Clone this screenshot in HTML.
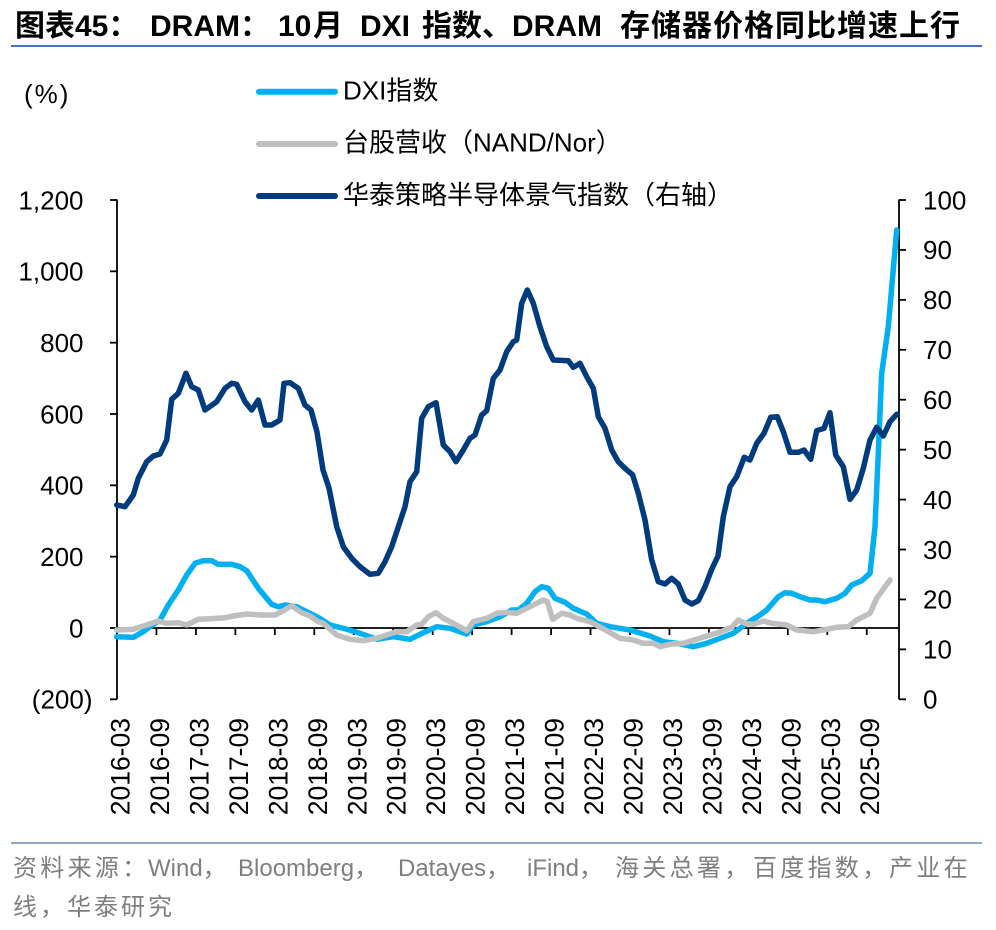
<!DOCTYPE html>
<html>
<head>
<meta charset="utf-8">
<style>
  html,body{margin:0;padding:0;background:#fff;}
  svg{display:block;}
  text{font-family:"Liberation Sans","Noto Sans CJK SC",sans-serif;}
</style>
</head>
<body>
<svg width="996" height="930" viewBox="0 0 996 930" xmlns="http://www.w3.org/2000/svg">
  <rect width="996" height="930" fill="#fff"/>

  <!-- Title -->
  <text y="36" font-size="30" font-weight="bold" fill="#000">
    <tspan x="15">图表45：</tspan>
    <tspan x="150">DRAM：</tspan>
    <tspan x="278">10</tspan>
    <tspan x="313">月</tspan>
    <tspan x="360">DXI</tspan>
    <tspan x="422">指数、</tspan>
    <tspan x="512">DRAM</tspan>
    <tspan x="620" letter-spacing="1">存储器价格同比增速上行</tspan>
  </text>
  <line x1="11" y1="46" x2="982" y2="46" stroke="#4472C4" stroke-width="2"/>

  <!-- Unit -->
  <text x="24" y="103" font-size="26" letter-spacing="2" fill="#000">(%)</text>

  <!-- Legend -->
  <line x1="259" y1="91.7" x2="335" y2="91.7" stroke="#00B0F0" stroke-width="6" stroke-linecap="round"/>
  <text x="343" y="99.3" font-size="26" fill="#000">DXI指数</text>
  <line x1="259" y1="144" x2="335" y2="144" stroke="#BFBFBF" stroke-width="6" stroke-linecap="round"/>
  <text x="343" y="151.7" font-size="26" fill="#000">台股营收（NAND/Nor）</text>
  <line x1="259" y1="196" x2="335" y2="196" stroke="#003B7E" stroke-width="6" stroke-linecap="round"/>
  <text x="343" y="204" font-size="26" fill="#000">华泰策略半导体景气指数（右轴）</text>

  <!-- Axes -->
  <g stroke="#000" stroke-width="1.8" fill="none">
    <line x1="117" y1="199.5" x2="117" y2="699.3"/>
    <line x1="899" y1="199.5" x2="899" y2="699.3"/>
    <line x1="117" y1="628" x2="899" y2="628"/>
    <!-- left ticks -->
    <line x1="110" y1="200" x2="117" y2="200"/>
    <line x1="110" y1="271.33" x2="117" y2="271.33"/>
    <line x1="110" y1="342.67" x2="117" y2="342.67"/>
    <line x1="110" y1="414" x2="117" y2="414"/>
    <line x1="110" y1="485.33" x2="117" y2="485.33"/>
    <line x1="110" y1="556.67" x2="117" y2="556.67"/>
    <line x1="110" y1="628" x2="117" y2="628"/>
    <line x1="110" y1="699.3" x2="117" y2="699.3"/>
    <!-- right ticks -->
    <line x1="899" y1="200" x2="906" y2="200"/>
    <line x1="899" y1="249.93" x2="906" y2="249.93"/>
    <line x1="899" y1="299.86" x2="906" y2="299.86"/>
    <line x1="899" y1="349.79" x2="906" y2="349.79"/>
    <line x1="899" y1="399.72" x2="906" y2="399.72"/>
    <line x1="899" y1="449.65" x2="906" y2="449.65"/>
    <line x1="899" y1="499.58" x2="906" y2="499.58"/>
    <line x1="899" y1="549.51" x2="906" y2="549.51"/>
    <line x1="899" y1="599.44" x2="906" y2="599.44"/>
    <line x1="899" y1="649.37" x2="906" y2="649.37"/>
    <line x1="899" y1="699.3" x2="906" y2="699.3"/>
    <!-- x ticks -->
    <line x1="156.46" y1="628" x2="156.46" y2="635"/>
    <line x1="195.92" y1="628" x2="195.92" y2="635"/>
    <line x1="235.38" y1="628" x2="235.38" y2="635"/>
    <line x1="274.84" y1="628" x2="274.84" y2="635"/>
    <line x1="314.3" y1="628" x2="314.3" y2="635"/>
    <line x1="353.76" y1="628" x2="353.76" y2="635"/>
    <line x1="393.22" y1="628" x2="393.22" y2="635"/>
    <line x1="432.68" y1="628" x2="432.68" y2="635"/>
    <line x1="472.14" y1="628" x2="472.14" y2="635"/>
    <line x1="511.6" y1="628" x2="511.6" y2="635"/>
    <line x1="551.06" y1="628" x2="551.06" y2="635"/>
    <line x1="590.52" y1="628" x2="590.52" y2="635"/>
    <line x1="629.98" y1="628" x2="629.98" y2="635"/>
    <line x1="669.44" y1="628" x2="669.44" y2="635"/>
    <line x1="708.9" y1="628" x2="708.9" y2="635"/>
    <line x1="748.36" y1="628" x2="748.36" y2="635"/>
    <line x1="787.82" y1="628" x2="787.82" y2="635"/>
    <line x1="827.28" y1="628" x2="827.28" y2="635"/>
    <line x1="866.74" y1="628" x2="866.74" y2="635"/>
  </g>

  <!-- Left axis labels -->
  <g font-size="26" fill="#000" text-anchor="end">
    <text x="83.5" y="209.3">1,200</text>
    <text x="83.5" y="280.6">1,000</text>
    <text x="83.5" y="352">800</text>
    <text x="83.5" y="423.3">600</text>
    <text x="83.5" y="494.6">400</text>
    <text x="83.5" y="566">200</text>
    <text x="83.5" y="637.3">0</text>
    <text x="92.5" y="708.6">(200)</text>
  </g>

  <!-- Right axis labels -->
  <g font-size="26" fill="#000">
    <text x="923" y="209.3">100</text>
    <text x="923" y="259.2">90</text>
    <text x="923" y="309.2">80</text>
    <text x="923" y="359.1">70</text>
    <text x="923" y="409">60</text>
    <text x="923" y="459">50</text>
    <text x="923" y="508.9">40</text>
    <text x="923" y="558.8">30</text>
    <text x="923" y="608.7">20</text>
    <text x="923" y="658.7">10</text>
    <text x="923" y="708.6">0</text>
  </g>

  <!-- X axis labels -->
  <g font-size="26.5" fill="#000" text-anchor="end">
    <text transform="translate(129.5,718) rotate(-90)">2016-03</text>
    <text transform="translate(168.96,718) rotate(-90)">2016-09</text>
    <text transform="translate(208.42,718) rotate(-90)">2017-03</text>
    <text transform="translate(247.88,718) rotate(-90)">2017-09</text>
    <text transform="translate(287.34,718) rotate(-90)">2018-03</text>
    <text transform="translate(326.8,718) rotate(-90)">2018-09</text>
    <text transform="translate(366.26,718) rotate(-90)">2019-03</text>
    <text transform="translate(405.72,718) rotate(-90)">2019-09</text>
    <text transform="translate(445.18,718) rotate(-90)">2020-03</text>
    <text transform="translate(484.64,718) rotate(-90)">2020-09</text>
    <text transform="translate(524.1,718) rotate(-90)">2021-03</text>
    <text transform="translate(563.56,718) rotate(-90)">2021-09</text>
    <text transform="translate(603.02,718) rotate(-90)">2022-03</text>
    <text transform="translate(642.48,718) rotate(-90)">2022-09</text>
    <text transform="translate(681.94,718) rotate(-90)">2023-03</text>
    <text transform="translate(721.4,718) rotate(-90)">2023-09</text>
    <text transform="translate(760.86,718) rotate(-90)">2024-03</text>
    <text transform="translate(800.32,718) rotate(-90)">2024-09</text>
    <text transform="translate(839.78,718) rotate(-90)">2025-03</text>
    <text transform="translate(879.24,718) rotate(-90)">2025-09</text>
  </g>

  <!-- Series -->
  <g fill="none" stroke-width="5.5" stroke-linejoin="round" stroke-linecap="round">
    <!-- DXI -->
    <polyline stroke="#00B0F0" points="116.7,636.7 133.3,637.3 143.3,631.7 150,626.7 160,620 168.3,605 178.3,590 186.7,575 195,563.3 203.3,560.7 211.7,560.7 218.3,564.3 231.7,564.3 240,566.7 246.7,570.7 258.3,588.3 271.7,604.3 278.3,606.7 285,605 296.7,606.7 306.7,611.7 318.3,617.5 330,625 343.3,628.3 360,633.3 376.7,639.3 393.3,636.7 410,639.3 423.3,632.7 436.7,626.7 450,628.3 466.7,634 473.3,625 486.7,621.7 500,616.7 511.7,610 518.3,610 526.7,603.3 535,591.7 541.7,586.7 548.3,588.3 555,598.3 565,602.3 573.3,608.3 586.7,614 596.7,623.3 610,626.7 630,630 650,636 663.3,641.7 676.7,643.3 693.3,646.7 706.7,643.3 720,638.3 733.3,633.3 746.7,623.3 760,615 766.7,610 778.3,596.7 785,592.7 791.7,593.3 800,596.7 810,600 816.7,600 825,601.7 836.7,598.3 845,593.3 851.7,585 861.7,580.7 870,573.3 875,526.7 878.3,453.3 881.7,373.3 888.3,326.7 896.7,230"/>
    <!-- Taiwan NAND/Nor revenue -->
    <polyline stroke="#BFBFBF" points="116.7,630 133.3,629.3 146.7,625 158.3,621 166.7,623.3 178.3,622.7 186.7,625 198.3,619.3 210,618.7 225,617.7 233.3,616 246.7,614 260,615 275,615 281.7,611.7 291.7,605.7 301.7,612.7 310,616 318.3,621.7 323.3,623.3 336.7,635 350,639.3 363.3,640.7 376.7,638.3 396.7,631.7 406.7,631.7 416.7,625 421.7,624.3 428.3,616.7 436,612.7 443.3,618.3 453.3,623.3 466.7,630.7 473.3,621.7 486.7,618.3 496.7,613.3 506.7,612.3 516.7,613.3 530,606.7 536.7,603.3 543.3,600 547.3,601.7 552.7,619.3 561.7,613.3 570,615 576.7,618.3 590,621.7 606.7,630.7 620,638.3 633.3,640 643.3,643.3 653.3,643.3 660,646.7 670,644.3 683.3,643.3 696.7,639.3 710,635 720,632 731.7,627.3 738.3,620 745,623.3 753.3,624.3 763.3,621 771.7,623.3 786.7,625 796.7,630 813.3,631.7 826.7,629.3 836.7,627.3 848.3,626.7 856.7,620 870,613.3 876.7,598.3 890,580"/>
    <!-- Huatai semiconductor index (right axis) -->
    <polyline stroke="#003B7E" points="116.7,505 125,506.7 133.3,495 138.3,478.3 146.7,461.7 153.3,456 160,454 166.7,440 171.7,399.3 178.3,393.3 186,373.3 191.7,386.7 198.3,390 205,410 216.7,401.7 225,388.3 231.7,383.3 236.7,384.3 245,401.7 251.7,410 258.3,400 265,425 271.7,425 280,420 284,383.3 290,382.7 298.3,388.3 305,405 311,410 317,432 323,470 329,488 336.7,526.7 343.3,546.7 351.7,558.3 360,566.7 370,574.3 378.3,573.3 385,561.7 391.7,546.7 400,521.7 405,506.7 410,481.7 416.7,471.7 421.7,418.3 428.3,406.7 436,402.7 443.3,445 450,451.7 456,461.7 463.3,450 470,438.3 475,435 481.7,415 486.7,410.7 493.3,378.3 500,370 506.7,351.7 513.3,341.7 516.7,340 521.7,303.3 527.3,290 533.3,303.3 540,326.7 546.7,346.7 553.3,360 568.3,360.7 573.3,367.3 580,363.3 586.7,376.7 593.3,388.3 598.3,416.7 605,428.3 611.7,450 618.3,461.7 625,468.3 632.7,475 638.3,493.3 645,520 651.7,560 658.3,581.7 665,584 671.7,578.3 678.3,584 685,600 691.7,604 698.3,600.7 705,586.7 711.7,569.3 718,556 723.3,516.7 730,486.7 736.7,476.7 744.3,457.3 750,460 756.7,443.3 764,433.3 770.7,417.3 777.3,416.7 783.3,431.7 790,452.3 798.3,452.3 804,450 810.7,459.3 816.7,430.7 824,428.3 830,412.7 835.7,455 843.3,466.7 850,499.3 856.7,490 863.3,468.3 870,440 876.7,427.3 883.3,436 890,421.7 896.7,414.3"/>
  </g>

  <!-- Footer -->
  <line x1="11" y1="843" x2="982" y2="843" stroke="#8EA9C8" stroke-width="2"/>
  <text y="876" font-size="24" fill="#7F7F7F">
    <tspan x="13" letter-spacing="3.3">资料来源：</tspan>
    <tspan x="148">Wind，</tspan>
    <tspan x="238">Bloomberg，</tspan>
    <tspan x="398">Datayes，</tspan>
    <tspan x="527">iFind，</tspan>
    <tspan x="615" letter-spacing="3.3">海关总署，</tspan>
    <tspan x="753" letter-spacing="3.3">百度指数，</tspan>
    <tspan x="889" letter-spacing="3.3">产业在</tspan>
  </text>
  <text x="13" y="915" font-size="24" fill="#7F7F7F" letter-spacing="3">线，华泰研究</text>
</svg>
</body>
</html>
